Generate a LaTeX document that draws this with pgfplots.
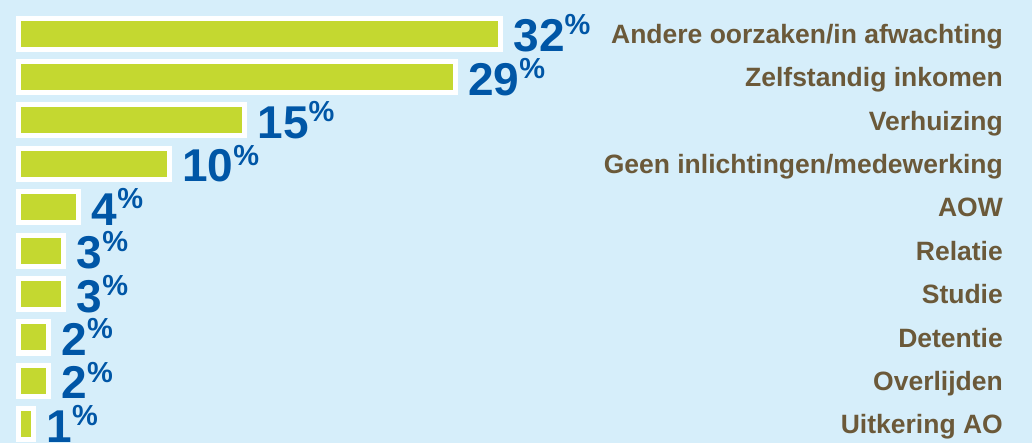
\documentclass[border=0pt]{standalone}
\usepackage{fontspec}
\setmainfont{Liberation Sans}
\usepackage{pgfplots}
\pgfplotsset{compat=1.18}
\definecolor{bg}{RGB}{214,238,250}
\definecolor{barg}{RGB}{196,216,48}
\definecolor{numblue}{RGB}{0,86,166}
\definecolor{labbrown}{RGB}{107,89,57}
\begin{document}
\begin{tikzpicture}[x=1pt,y=1pt]
\fill[bg] (0,0) rectangle (1032,443);
\begin{axis}[
  at={(18.5pt,-3pt)}, anchor=south west,
  scale only axis, width=984.5pt, height=434pt,
  xmin=0, xmax=65.36, ymin=-0.5, ymax=9.5, y dir=reverse,
  xbar, bar width=31pt, clip=false,
  axis line style={draw=none}, tick style={draw=none}, major tick length=0pt,
  xtick=\empty, ytick={0,...,9},
  yticklabel pos=right,
  yticklabels={Andere oorzaken/in afwachting, Zelfstandig inkomen, Verhuizing, Geen inlichtingen/medewerking, AOW, Relatie, Studie, Detentie, Overlijden, Uitkering AO},
  yticklabel style={anchor=base east, inner sep=0pt, yshift=-9.6pt, text=labbrown, font=\bfseries\fontsize{26.5}{30}\selectfont},
  /pgf/number format/assume math mode=true,
]
\addplot[draw=white, line width=5pt, line join=miter, fill=barg,
  nodes near coords={{\fontsize{46}{46}\selectfont\pgfmathprintnumber{\pgfplotspointmeta}}\raisebox{16.8pt}{\fontsize{29}{29}\selectfont\%}},
  nodes near coords style={anchor=base west, inner sep=0pt, xshift=10.5pt, yshift=-18pt, text=numblue, font=\bfseries}]
  coordinates {(32,0) (29,1) (15,2) (10,3) (4,4) (3,5) (3,6) (2,7) (2,8) (1,9)};
\end{axis}
\pgfresetboundingbox
\path[use as bounding box] (0,0) rectangle (1032,443);
\end{tikzpicture}
\end{document}
